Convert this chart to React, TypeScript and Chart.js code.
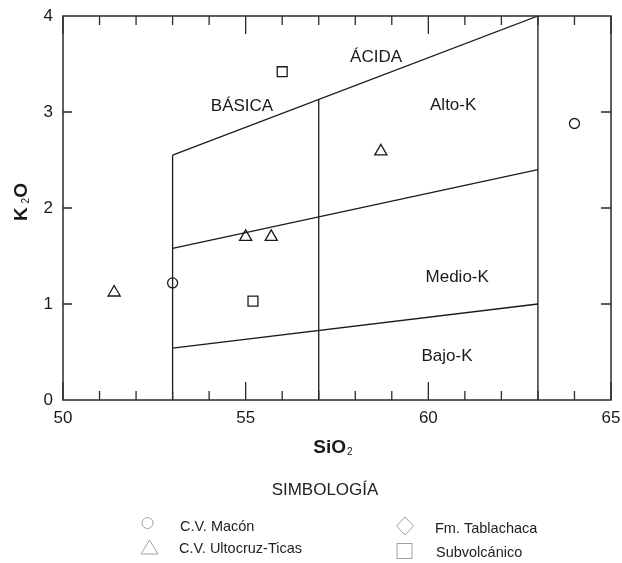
import React, { useEffect, useRef } from "react";
import { Chart, registerables } from "chart.js";

Chart.register(...registerables);

// Sample analyses (SiO2 wt%, K2O wt%)
const MACON_SIO2 = [53.0, 64.0];
const MACON_K2O = [1.22, 2.88];

const ULTOCRUZ_SIO2 = [51.4, 55.0, 55.7, 58.7];
const ULTOCRUZ_K2O = [1.12, 1.7, 1.7, 2.59];

const SUBVOLC_SIO2 = [56.0, 55.2];
const SUBVOLC_K2O = [3.42, 1.03];

// Field boundaries of the diagram, [SiO2, K2O] pairs
const BASIC_LIMIT = [[53, 0], [53, 2.55]];
const ACID_LINE = [[53, 2.55], [63, 4.0]];
const MID_LIMIT = [[57, 0], [57, 3.13]];
const UPPER_LIMIT = [[63, 0], [63, 4.0]];
const HIGH_K_LINE = [[53, 1.58], [63, 2.4]];
const LOW_K_LINE = [[53, 0.54], [63, 1.0]];

// Field names and where they sit (SiO2, K2O)
const FIELD_NAMES = ["BÁSICA", "ÁCIDA", "Alto-K", "Medio-K", "Bajo-K"];
const FIELD_SIO2 = [54.9, 58.57, 60.68, 60.79, 60.51];
const FIELD_K2O = [3.06, 3.57, 3.07, 1.28, 0.45];

const X_TICKS = [50, 55, 60, 65];
const Y_TICKS = [0, 1, 2, 3, 4];

const LEGEND_TITLE = "SIMBOLOGÍA";
const LEGEND_LABELS = ["C.V. Macón", "C.V. Ultocruz-Ticas", "Fm. Tablachaca", "Subvolcánico"];

const FONT = "'Liberation Sans', Arial, sans-serif";
const INK = "#1a1a1a";

const toPoints = (xs: number[], ys: number[]) => xs.map((x, i) => ({ x, y: ys[i] }));
const pairPoints = (p: number[][]) => p.map(([x, y]) => ({ x, y }));

const boundary = (p: number[][]) => ({
  data: pairPoints(p),
  showLine: true,
  borderColor: INK,
  borderWidth: 1.3,
  pointRadius: 0,
  pointHoverRadius: 0,
  fill: false,
});

const samples = (xs: number[], ys: number[], style: string, r: number) => ({
  data: toPoints(xs, ys),
  showLine: false,
  pointStyle: style,
  pointRadius: r,
  pointHoverRadius: r,
  pointBorderWidth: 1.3,
  pointBorderColor: INK,
  pointBackgroundColor: "rgba(255,255,255,0)",
});

// tick labels may hang past the plot edges without shrinking it
const noOverhang = (s: any) => {
  s.paddingTop = 0;
  s.paddingBottom = 0;
  s.paddingLeft = 0;
  s.paddingRight = 0;
};

const decorPlugin = {
  id: "decor",
  afterDraw(chart: any) {
    const { ctx, chartArea: a, scales } = chart;
    const xs = scales.x;
    const ys = scales.y;
    ctx.save();

    // frame
    ctx.strokeStyle = "#2a2a2a";
    ctx.lineWidth = 1.5;
    ctx.strokeRect(a.left, a.top, a.right - a.left, a.bottom - a.top);

    // inward tick marks
    ctx.lineWidth = 1.3;
    ctx.beginPath();
    for (let v = 50; v <= 65; v++) {
      const px = xs.getPixelForValue(v);
      const len = v % 5 === 0 ? 18 : 9;
      ctx.moveTo(px, a.bottom);
      ctx.lineTo(px, a.bottom - len);
      ctx.moveTo(px, a.top);
      ctx.lineTo(px, a.top + len);
    }
    for (let v = 1; v <= 3; v++) {
      const py = ys.getPixelForValue(v);
      ctx.moveTo(a.left, py);
      ctx.lineTo(a.left + 9, py);
      ctx.moveTo(a.right, py);
      ctx.lineTo(a.right - 10, py);
    }
    ctx.stroke();

    // field names
    ctx.fillStyle = INK;
    ctx.font = `17px ${FONT}`;
    ctx.textAlign = "center";
    ctx.textBaseline = "middle";
    FIELD_NAMES.forEach((name, i) => {
      ctx.fillText(name, xs.getPixelForValue(FIELD_SIO2[i]), ys.getPixelForValue(FIELD_K2O[i]));
    });

    // axis titles
    const drawFormula = (parts: [string, boolean][], x: number, y: number) => {
      const big = `bold 19px ${FONT}`;
      const small = `10px ${FONT}`;
      let w = 0;
      parts.forEach(([t, sub]) => {
        ctx.font = sub ? small : big;
        w += ctx.measureText(t).width + (sub ? 1 : 0);
      });
      let cx = x - w / 2;
      ctx.textAlign = "left";
      ctx.textBaseline = "alphabetic";
      parts.forEach(([t, sub]) => {
        ctx.font = sub ? small : big;
        ctx.fillText(t, cx + (sub ? 1 : 0), y + (sub ? 2 : 0));
        cx += ctx.measureText(t).width + (sub ? 1 : 0);
      });
    };
    drawFormula([["SiO", false], ["2", true]], 333, 453);
    ctx.save();
    ctx.translate(27, 202);
    ctx.rotate(-Math.PI / 2);
    drawFormula([["K", false], [" 2", true], ["O", false]], 0, 0);
    ctx.restore();

    // legend
    ctx.fillStyle = "#222";
    ctx.font = `17px ${FONT}`;
    ctx.textAlign = "center";
    ctx.textBaseline = "alphabetic";
    ctx.fillText(LEGEND_TITLE, 325, 495);

    ctx.font = `14.5px ${FONT}`;
    ctx.textAlign = "left";
    ctx.fillText(LEGEND_LABELS[0], 180, 531);
    ctx.fillText(LEGEND_LABELS[1], 179, 553);
    ctx.fillText(LEGEND_LABELS[2], 435, 533);
    ctx.fillText(LEGEND_LABELS[3], 436, 557);

    ctx.strokeStyle = "#a0a0a0";
    ctx.lineWidth = 1;
    ctx.beginPath();
    ctx.arc(147.5, 523, 5.5, 0, Math.PI * 2);
    ctx.stroke();
    ctx.beginPath();
    ctx.moveTo(149.5, 540);
    ctx.lineTo(158, 554);
    ctx.lineTo(141, 554);
    ctx.closePath();
    ctx.stroke();
    ctx.beginPath();
    ctx.moveTo(405, 517);
    ctx.lineTo(413.5, 526);
    ctx.lineTo(405, 535);
    ctx.lineTo(396.5, 526);
    ctx.closePath();
    ctx.stroke();
    ctx.strokeRect(397, 543.5, 15, 15);

    ctx.restore();
  },
};

export default function App() {
  const ref = useRef<HTMLCanvasElement | null>(null);

  useEffect(() => {
    if (!ref.current) return;
    const chart = new Chart(ref.current, {
      type: "scatter",
      data: {
        datasets: [
          boundary(BASIC_LIMIT),
          boundary(ACID_LINE),
          boundary(MID_LIMIT),
          boundary(UPPER_LIMIT),
          boundary(HIGH_K_LINE),
          boundary(LOW_K_LINE),
          samples(MACON_SIO2, MACON_K2O, "circle", 5),
          samples(ULTOCRUZ_SIO2, ULTOCRUZ_K2O, "triangle", 7),
          samples(SUBVOLC_SIO2, SUBVOLC_K2O, "rect", 7),
        ] as any,
      },
      options: {
        responsive: false,
        animation: false,
        events: [],
        layout: { padding: { left: 0, top: 16, right: 11, bottom: 0 } },
        plugins: {
          legend: { display: false },
          tooltip: { enabled: false },
          title: { display: false },
        },
        scales: {
          x: {
            type: "linear",
            min: 50,
            max: 65,
            afterBuildTicks: (s: any) => {
              s.ticks = X_TICKS.map((value) => ({ value }));
            },
            afterFit: (s: any) => {
              s.height = 163;
              noOverhang(s);
            },
            ticks: { font: { size: 17, family: FONT }, color: INK, padding: 8, maxRotation: 0 },
            grid: { display: false, drawTicks: false },
            border: { display: false },
          },
          y: {
            type: "linear",
            min: 0,
            max: 4,
            afterBuildTicks: (s: any) => {
              s.ticks = Y_TICKS.map((value) => ({ value }));
            },
            afterFit: (s: any) => {
              s.width = 63;
              noOverhang(s);
            },
            ticks: { font: { size: 17, family: FONT }, color: INK, padding: 10 },
            grid: { display: false, drawTicks: false },
            border: { display: false },
          },
        },
      },
      plugins: [decorPlugin],
    });
    return () => chart.destroy();
  }, []);

  return (
    <div style={{ position: "absolute", left: 0, top: 0, width: 622, height: 563, background: "#fff" }}>
      <canvas ref={ref} width={622} height={563} style={{ display: "block" }} />
    </div>
  );
}
